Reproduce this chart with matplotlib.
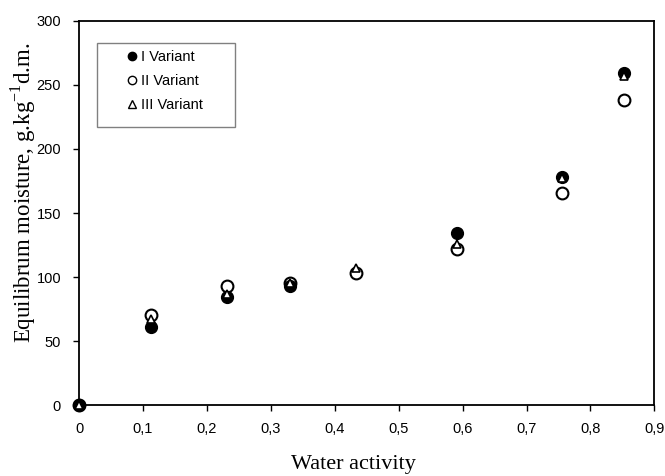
import matplotlib.pyplot as plt
from matplotlib.patches import Rectangle
from matplotlib.ticker import FuncFormatter

# water activity and equilibrium moisture (g/kg d.m.)
aw_1 = [0.0, 0.113, 0.231, 0.330, 0.591, 0.756, 0.853]
var_1 = [0, 61, 84.5, 93, 134, 178, 259]

aw_2 = [0.0, 0.113, 0.231, 0.330, 0.433, 0.591, 0.756, 0.853]
var_2 = [0, 70, 93, 95, 103, 122, 166, 238]

aw_3 = [0.0, 0.113, 0.231, 0.330, 0.433, 0.591, 0.756, 0.853]
var_3 = [0, 67, 87, 95, 107, 126, 177, 257]

x_ticks = [0, 0.1, 0.2, 0.3, 0.4, 0.5, 0.6, 0.7, 0.8, 0.9]
y_ticks = [0, 50, 100, 150, 200, 250, 300]

fig = plt.figure(figsize=(6.65, 4.76), dpi=100)
ax = fig.add_axes([0.119, 0.149, 0.865, 0.807])

ax.plot(aw_1, var_1, 'o', color='black', markersize=8.5, label='I Variant', clip_on=False, zorder=3)
ax.plot(aw_2, var_2, 'o', markerfacecolor='none', markeredgecolor='black', markeredgewidth=1.5,
        markersize=8.5, label='II Variant', clip_on=False, zorder=4)
ax.plot(aw_3, var_3, '^', markerfacecolor='white', markeredgecolor='black', markeredgewidth=1.2,
        markersize=6, label='III Variant', clip_on=False, zorder=5)

ax.set_xlim(0, 0.9)
ax.set_ylim(0, 300)
ax.set_xticks(x_ticks)
ax.set_yticks(y_ticks)
ax.xaxis.set_major_formatter(FuncFormatter(lambda v, p: ('%g' % round(v, 1)).replace('.', ',')))
ax.tick_params(direction='out', length=4, width=1, labelsize=10.5)
ax.tick_params(axis='x', pad=8)
ax.tick_params(axis='y', pad=9)
for lbl in ax.get_xticklabels() + ax.get_yticklabels():
    lbl.set_family('Liberation Sans')
for s in ax.spines.values():
    s.set_linewidth(1.3)

ax.set_xlabel('Water activity', family='Liberation Serif', fontsize=16)
ax.set_ylabel('Equilibrum moisture, g.kg$^{\\mathregular{-1}}$d.m.', family='Liberation Serif', fontsize=16.5)
ax.xaxis.set_label_coords(0.476, -0.13)
ax.yaxis.set_label_coords(-0.071, 0.552)

# legend box (frame drawn separately, Excel style padding)
ax.add_patch(Rectangle((0.031, 0.724), 0.24, 0.219, transform=ax.transAxes, facecolor='white',
                       edgecolor='gray', linewidth=1, zorder=6))
leg = ax.legend(loc='upper left', bbox_to_anchor=(0.079, 0.925), prop={'family': 'Liberation Sans', 'size': 10.5},
                frameon=False, handlelength=1.0, handletextpad=0.15, borderpad=0, labelspacing=0.7,
                borderaxespad=0)
leg.set_zorder(7)
for h, ms in zip(leg.legend_handles, [6, 6, 6]):
    h.set_markersize(ms)
    h.set_markeredgewidth(1)

fig.savefig('out.png', dpi=100)
